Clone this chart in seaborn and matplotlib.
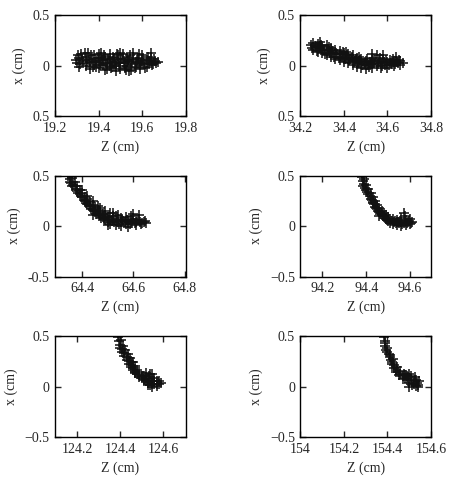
import numpy as np
import pandas as pd
import matplotlib
matplotlib.use("Agg")
import matplotlib.pyplot as plt
import seaborn as sns

# panel 1: Z ~ 19.5 cm
z1 = [19.30, 19.31, 19.31, 19.32, 19.33, 19.34, 19.34, 19.35, 19.36, 19.36, 19.37, 19.38, 19.38,
      19.39, 19.40, 19.40, 19.41, 19.41, 19.42, 19.43, 19.43, 19.44, 19.45, 19.45, 19.46, 19.46,
      19.47, 19.48, 19.48, 19.49, 19.49, 19.50, 19.50, 19.51, 19.52, 19.52, 19.53, 19.53, 19.54,
      19.55, 19.55, 19.56, 19.56, 19.57, 19.57, 19.58, 19.59, 19.59, 19.60, 19.60, 19.61, 19.62,
      19.62, 19.63, 19.64, 19.64, 19.65, 19.66, 19.47, 19.44, 19.39, 19.51, 19.58, 19.42, 19.54,
      19.295, 19.305, 19.315, 19.325, 19.335, 19.345, 19.355, 19.365, 19.375, 19.385, 19.395,
      19.405, 19.415, 19.425, 19.435, 19.445, 19.455, 19.465, 19.475, 19.485, 19.495, 19.505,
      19.515, 19.525, 19.535, 19.545, 19.555, 19.565, 19.575, 19.585, 19.595, 19.605, 19.615,
      19.625, 19.635, 19.645, 19.655, 19.665, 19.675, 19.45, 19.50, 19.40]
x1 = [0.03, 0.08, -0.01, 0.11, 0.05, 0.00, 0.09, 0.12, 0.04, -0.03, 0.07, 0.01, 0.10,
      0.05, -0.02, 0.08, 0.12, 0.03, 0.06, -0.04, 0.09, 0.02, 0.06, 0.11, -0.01, 0.04,
      0.08, -0.05, 0.02, 0.06, 0.10, -0.03, 0.03, 0.07, -0.02, 0.04, 0.09, 0.00, 0.05,
      -0.04, 0.02, 0.07, 0.12, -0.01, 0.04, 0.08, 0.01, -0.03, 0.05, 0.10, 0.02, 0.06,
      -0.01, 0.03, 0.08, 0.12, 0.02, 0.05, 0.00, -0.03, -0.01, 0.11, 0.03, 0.01, -0.05,
      0.06, 0.10, 0.02, 0.07, 0.12, 0.03, 0.06, 0.10, -0.01, 0.04, 0.08,
      0.01, 0.06, 0.10, 0.03, 0.07, -0.02, 0.09, 0.04, 0.11, 0.00, 0.07,
      0.03, -0.04, 0.06, 0.10, 0.04, -0.02, 0.06, 0.11, 0.03, 0.07, -0.02,
      0.09, 0.05, 0.01, 0.07, 0.03, 0.04, 0.00, 0.12, 0.11]

# panel 2: Z ~ 34.4 cm
z2 = [34.25, 34.26, 34.26, 34.27, 34.28, 34.28, 34.29, 34.30, 34.30, 34.31, 34.32, 34.32, 34.33,
      34.34, 34.34, 34.35, 34.36, 34.36, 34.37, 34.38, 34.38, 34.39, 34.40, 34.40, 34.41, 34.42,
      34.42, 34.43, 34.44, 34.44, 34.45, 34.46, 34.46, 34.47, 34.48, 34.48, 34.49, 34.50, 34.50,
      34.51, 34.52, 34.53, 34.53, 34.54, 34.55, 34.55, 34.56, 34.57, 34.57, 34.58, 34.59, 34.60,
      34.60, 34.61, 34.62, 34.63, 34.63, 34.64, 34.65, 34.66, 34.66, 34.29, 34.33, 34.41, 34.47,
      34.255, 34.265, 34.275, 34.285, 34.295, 34.305, 34.315, 34.325, 34.335, 34.345, 34.355,
      34.365, 34.375, 34.385, 34.395, 34.405, 34.415, 34.425, 34.435, 34.445, 34.455, 34.465,
      34.475, 34.485, 34.495, 34.505, 34.515, 34.525, 34.535, 34.545, 34.555, 34.565, 34.575,
      34.585, 34.595, 34.605, 34.615, 34.625, 34.635, 34.645, 34.655, 34.67, 34.53, 34.58]
x2 = [0.20, 0.15, 0.22, 0.18, 0.13, 0.21, 0.17, 0.19, 0.12, 0.15, 0.20, 0.10, 0.14,
      0.17, 0.09, 0.12, 0.15, 0.07, 0.11, 0.14, 0.06, 0.09, 0.12, 0.04, 0.08, 0.11,
      0.03, 0.07, 0.10, 0.01, 0.05, 0.08, -0.01, 0.04, 0.07, -0.02, 0.02, 0.05, -0.03,
      0.01, 0.04, 0.08, -0.02, 0.03, 0.10, 0.00, 0.05, -0.02, 0.03, 0.07, 0.01, 0.04,
      -0.02, 0.06, 0.02, 0.00, 0.05, 0.09, 0.03, 0.05, 0.01, 0.23, 0.18, 0.13, 0.09,
      0.17, 0.19, 0.14, 0.18, 0.20, 0.15, 0.11, 0.16, 0.12, 0.14, 0.09,
      0.12, 0.08, 0.11, 0.13, 0.07, 0.10, 0.06, 0.09, 0.04, 0.07, 0.03,
      0.06, 0.01, 0.04, 0.07, -0.01, 0.02, 0.05, 0.06, 0.02, 0.08, 0.00,
      0.04, 0.06, 0.01, 0.03, 0.07, 0.02, 0.04, 0.06, 0.03, 0.11, 0.10]

# panel 3: Z ~ 64.5 cm
z3 = [64.345, 64.35, 64.355, 64.36, 64.365, 64.37, 64.375, 64.38, 64.385, 64.39, 64.395, 64.40,
      64.405, 64.41, 64.415, 64.42, 64.425, 64.43, 64.435, 64.44, 64.445, 64.45, 64.455, 64.46,
      64.465, 64.47, 64.475, 64.48, 64.49, 64.49, 64.50, 64.50, 64.51, 64.51, 64.52, 64.53,
      64.53, 64.54, 64.55, 64.55, 64.56, 64.57, 64.57, 64.58, 64.58, 64.59, 64.60, 64.60,
      64.61, 64.61, 64.62, 64.62, 64.63, 64.64, 64.65, 64.52, 64.46, 64.44,
      64.35, 64.36, 64.37, 64.38, 64.39, 64.40, 64.41, 64.42, 64.43, 64.44, 64.45, 64.46,
      64.47, 64.48, 64.485, 64.495, 64.505, 64.515, 64.525, 64.535, 64.545, 64.555, 64.565,
      64.575, 64.585, 64.595, 64.605, 64.615, 64.625, 64.635, 64.645, 64.50, 64.54, 64.59,
      64.40, 64.42, 64.44, 64.47, 64.49, 64.52]
x3 = [0.50, 0.47, 0.43, 0.48, 0.41, 0.44, 0.37, 0.40, 0.33, 0.36, 0.30, 0.33,
      0.26, 0.29, 0.23, 0.27, 0.20, 0.24, 0.17, 0.21, 0.15, 0.19, 0.12, 0.16,
      0.10, 0.14, 0.08, 0.12, 0.06, 0.11, 0.04, 0.09, 0.13, 0.02, 0.07, 0.01,
      0.10, 0.04, 0.08, 0.00, 0.05, 0.02, 0.09, -0.01, 0.05, 0.03, 0.07, 0.12,
      0.01, 0.04, 0.06, 0.11, 0.02, 0.04, 0.03, 0.13, 0.20, 0.11,
      0.44, 0.40, 0.40, 0.35, 0.32, 0.29, 0.25, 0.22, 0.20, 0.17, 0.15, 0.13,
      0.11, 0.09, 0.07, 0.08, 0.06, 0.05, 0.04, 0.06, 0.02, 0.06, 0.04,
      0.06, 0.02, 0.05, 0.03, 0.06, 0.04, 0.03, 0.05, 0.01, 0.11, 0.10,
      0.36, 0.30, 0.25, 0.18, 0.15, 0.10]

# panel 4: Z ~ 94.5 cm
z4 = [94.38, 94.385, 94.39, 94.39, 94.395, 94.40, 94.405, 94.41, 94.415, 94.42, 94.425, 94.43,
      94.435, 94.44, 94.445, 94.45, 94.455, 94.46, 94.465, 94.47, 94.475, 94.48, 94.49, 94.49,
      94.50, 94.50, 94.51, 94.52, 94.52, 94.53, 94.54, 94.54, 94.55, 94.56, 94.56, 94.57,
      94.57, 94.58, 94.58, 94.59, 94.60, 94.60, 94.61, 94.46, 94.43,
      94.385, 94.40, 94.41, 94.42, 94.43, 94.44, 94.45, 94.46, 94.47, 94.48, 94.485, 94.495,
      94.505, 94.515, 94.525, 94.535, 94.545, 94.555, 94.565, 94.575, 94.585, 94.595, 94.605]
x4 = [0.49, 0.45, 0.42, 0.47, 0.38, 0.41, 0.34, 0.37, 0.30, 0.33, 0.26, 0.29,
      0.22, 0.25, 0.18, 0.21, 0.15, 0.18, 0.12, 0.15, 0.10, 0.13, 0.07, 0.11,
      0.05, 0.09, 0.03, 0.07, 0.02, 0.05, 0.01, 0.06, 0.03, 0.00, 0.08, 0.13,
      0.03, 0.06, 0.01, 0.04, 0.02, 0.07, 0.04, 0.10, 0.24,
      0.40, 0.36, 0.32, 0.27, 0.23, 0.19, 0.17, 0.14, 0.12, 0.10, 0.08, 0.06,
      0.07, 0.05, 0.04, 0.03, 0.04, 0.05, 0.02, 0.10, 0.03, 0.05, 0.03]

# panel 5: Z ~ 124.5 cm
z5 = [124.39, 124.395, 124.40, 124.405, 124.41, 124.415, 124.42, 124.425, 124.43, 124.435,
      124.44, 124.445, 124.45, 124.455, 124.46, 124.47, 124.47, 124.48, 124.49, 124.49,
      124.50, 124.51, 124.51, 124.52, 124.53, 124.53, 124.54, 124.54, 124.55, 124.55,
      124.56, 124.56, 124.57, 124.57, 124.58, 124.59, 124.46, 124.52, 124.55,
      124.40, 124.41, 124.42, 124.43, 124.44, 124.45, 124.46, 124.47, 124.48, 124.49,
      124.50, 124.51, 124.52, 124.53, 124.54, 124.55, 124.56, 124.57, 124.58, 124.535]
x5 = [0.49, 0.45, 0.41, 0.46, 0.37, 0.40, 0.33, 0.36, 0.29, 0.32,
      0.25, 0.28, 0.21, 0.24, 0.18, 0.20, 0.14, 0.16, 0.11, 0.14,
      0.08, 0.10, 0.06, 0.08, 0.04, 0.07, 0.02, 0.12, 0.05, 0.00,
      0.03, 0.08, 0.01, 0.05, 0.03, 0.04, 0.24, 0.13, 0.12,
      0.38, 0.34, 0.30, 0.26, 0.22, 0.19, 0.16, 0.13, 0.12, 0.09,
      0.10, 0.07, 0.05, 0.02, 0.05, 0.03, 0.05, 0.03, 0.05, 0.10]

# panel 6: Z ~ 154.5 cm
z6 = [154.385, 154.39, 154.39, 154.395, 154.40, 154.405, 154.41, 154.415, 154.42, 154.425,
      154.43, 154.44, 154.445, 154.45, 154.455, 154.46, 154.47, 154.475, 154.48, 154.485,
      154.49, 154.495, 154.50, 154.50, 154.51, 154.515, 154.52, 154.525, 154.53, 154.535,
      154.54, 154.545, 154.50,
      154.39, 154.40, 154.41, 154.42, 154.43, 154.44, 154.46, 154.47, 154.48, 154.49,
      154.51, 154.52, 154.53, 154.54]
x6 = [0.49, 0.45, 0.40, 0.36, 0.38, 0.32, 0.29, 0.26, 0.24, 0.27,
      0.21, 0.16, 0.19, 0.14, 0.11, 0.15, 0.10, 0.12, 0.08, 0.11,
      0.06, 0.09, 0.04, 0.12, 0.07, 0.02, 0.05, 0.09, 0.01, 0.04,
      0.02, 0.05, 0.00,
      0.43, 0.34, 0.31, 0.22, 0.18, 0.14, 0.12, 0.07, 0.11, 0.10,
      0.10, 0.03, 0.06, 0.00]

panels = [(z1, x1), (z2, x2), (z3, x3), (z4, x4), (z5, x5), (z6, x6)]
xlims = [(19.21, 19.79), (34.2, 34.8), (64.294, 64.804), (94.1, 94.695), (124.098, 124.705), (154.0, 154.6)]
xticks = [[19.2, 19.4, 19.6, 19.8], [34.2, 34.4, 34.6, 34.8], [64.4, 64.6, 64.8],
          [94.2, 94.4, 94.6], [124.2, 124.4, 124.6], [154, 154.2, 154.4, 154.6]]
xticklabels = [["19.2", "19.4", "19.6", "19.8"], ["34.2", "34.4", "34.6", "34.8"], ["64.4", "64.6", "64.8"],
               ["94.2", "94.4", "94.6"], ["124.2", "124.4", "124.6"], ["154", "154.2", "154.4", "154.6"]]
yticklabels = [["0.5", "0", "0.5"], ["0.5", "0", "0.5"], ["-0.5", "0", "0.5"],
               ["\u22120.5", "0", "0.5"], ["\u22120.5", "0", "0.5"], ["\u22120.5", "0", "0.5"]]

sns.set_style("ticks")
plt.rcParams['font.family'] = ['Liberation Serif', 'DejaVu Serif']

fig, axes = plt.subplots(3, 2, figsize=(4.56, 4.88), dpi=100)
fig.subplots_adjust(left=0.121, right=0.945, bottom=0.1045, top=0.969, wspace=0.88, hspace=0.59)

for i, ax in enumerate(axes.flat):
    z, x = panels[i]
    df = pd.DataFrame({"Z": z, "x": x})
    sns.scatterplot(data=df, x="Z", y="x", ax=ax, marker="+", color="#111111",
                    s=42, linewidth=1.1, legend=False)
    ax.set_xlim(*xlims[i])
    ax.set_ylim(-0.5, 0.5)
    ax.set_xticks(xticks[i])
    ax.set_xticklabels(xticklabels[i])
    ax.set_yticks([-0.5, 0, 0.5])
    ax.set_yticklabels(yticklabels[i])
    ax.tick_params(direction="in", top=True, right=True, length=4, width=1, labelsize=10, pad=4)
    for sp in ax.spines.values():
        sp.set_linewidth(1)
        sp.set_color("black")
    ax.set_xlabel("Z (cm)", fontsize=10, labelpad=4)
    ax.set_ylabel("x (cm)", fontsize=10, labelpad=5)

fig.savefig("out.png", dpi=100)
